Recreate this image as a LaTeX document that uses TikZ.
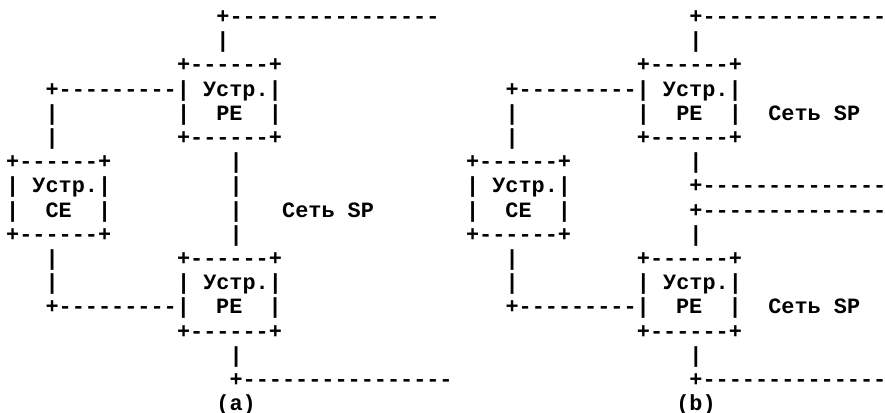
\documentclass[tikz,border=0pt]{standalone}
\usepackage{fontspec}
\setmonofont{Liberation Mono}[Ligatures=TeXOff]
\tikzset{t/.style={font=\ttfamily\bfseries\fontsize{16.4pt}{18pt}\selectfont, inner sep=0pt, anchor=base west}}
\newcommand\asc[4]{\node[t] (#1) at ({5.93+13.14*(#2)},{24.2*(#3)-0.7}) {#4};}
\begin{document}
\begin{tikzpicture}[x=0.75pt,y=-0.75pt]
\useasboundingbox (0,0) rectangle (885,412);
\clip (0,0) rectangle (885,412);
% (a)
\asc{a1}{16}{1}{+----------------}
\asc{a2}{16}{2}{|}
\asc{a3}{13}{3}{+------+}
\asc{a4}{3}{4}{+---------| Устр.|}
\asc{a5l}{3}{5}{|}
\asc{a5}{13}{5}{|~~PE~~|}
\asc{a6l}{3}{6}{|}
\asc{a6}{13}{6}{+------+}
\asc{a7}{0}{7}{+------+}
\asc{a7v}{17}{7}{|}
\asc{a8}{0}{8}{| Устр.|}
\asc{a8v}{17}{8}{|}
\asc{a9}{0}{9}{|~~CE~~|}
\asc{a9v}{17}{9}{|}
\asc{a9n}{21}{9}{Сеть~SP}
\asc{a10}{0}{10}{+------+}
\asc{a10v}{17}{10}{|}
\asc{a11l}{3}{11}{|}
\asc{a11}{13}{11}{+------+}
\asc{a12l}{3}{12}{|}
\asc{a12}{13}{12}{| Устр.|}
\asc{a13}{3}{13}{+---------|~~PE~~|}
\asc{a14}{13}{14}{+------+}
\asc{a15}{17}{15}{|}
\asc{a16}{17}{16}{+----------------}
\asc{a17}{16}{17}{(a)}
% (b)
\asc{b1}{52}{1}{+---------------}
\asc{b2}{52}{2}{|}
\asc{b3}{48}{3}{+------+}
\asc{b4}{38}{4}{+---------| Устр.|}
\asc{b5l}{38}{5}{|}
\asc{b5}{48}{5}{|~~PE~~|}
\asc{b5n}{58}{5}{Сеть~SP}
\asc{b6l}{38}{6}{|}
\asc{b6}{48}{6}{+------+}
\asc{b7}{35}{7}{+------+}
\asc{b7v}{52}{7}{|}
\asc{b8}{35}{8}{| Устр.|}
\asc{b8h}{52}{8}{+---------------}
\asc{b9}{35}{9}{|~~CE~~|}
\asc{b9h}{52}{9}{+---------------}
\asc{b10}{35}{10}{+------+}
\asc{b10v}{52}{10}{|}
\asc{b11l}{38}{11}{|}
\asc{b11}{48}{11}{+------+}
\asc{b12l}{38}{12}{|}
\asc{b12}{48}{12}{| Устр.|}
\asc{b13}{38}{13}{+---------|~~PE~~|}
\asc{b13n}{58}{13}{Сеть~SP}
\asc{b14}{48}{14}{+------+}
\asc{b15}{52}{15}{|}
\asc{b16}{52}{16}{+---------------}
\asc{b17}{51}{17}{(b)}
\end{tikzpicture}
\end{document}
